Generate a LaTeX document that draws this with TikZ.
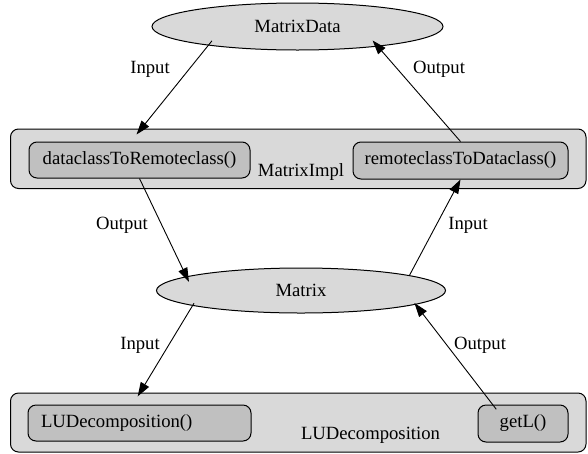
\documentclass[tikz,border=0pt]{standalone}
\usepackage{fontspec}
\setmainfont{Liberation Serif}
\usetikzlibrary{shapes.geometric,arrows.meta,positioning}

\definecolor{nodegray}{RGB}{217,217,217}
\definecolor{boxgray}{RGB}{192,192,192}

\tikzset{
  lbl/.style={font=\fontsize{18.67pt}{22pt}\selectfont, inner sep=0pt},
  dataset/.style={lbl, ellipse, draw, line width=1pt, fill=nodegray},
  cluster/.style={rectangle, draw, line width=1pt, rounded corners=8pt, fill=nodegray, inner sep=0pt},
  method/.style={lbl, rectangle, draw, line width=1pt, rounded corners=8pt, fill=boxgray},
  flow/.style={line width=0.9pt, -{Triangle[length=14pt,width=9.5pt]}},
}

\begin{document}
\begin{tikzpicture}[x=1pt,y=-1pt]
  \useasboundingbox (0,0) rectangle (588,453);
  % the two class clusters
  \node[cluster, minimum width=575.5pt, minimum height=59.5pt] (implbox) at (298.25,158.75) {};
  \node[cluster, minimum width=575.5pt, minimum height=59pt] (ludbox) at (298.25,422.5) {};
  \node[lbl] (implname) at (301,172) {MatrixImpl};
  \node[lbl] (ludname) at (370.5,435) {LUDecomposition};
  % methods
  \node[method, minimum width=221pt, minimum height=36pt] (dtr) at (139.5,160) {dataclassToRemoteclass()};
  \node[method, minimum width=215pt, minimum height=37pt] (rtd) at (460.5,160.5) {remoteclassToDataclass()};
  \node[method, minimum height=36pt, text width=197pt, inner xsep=13pt, align=left] (lud) at (139.5,423) {LUDecomposition()};
  \node[method, minimum width=90pt, minimum height=37pt] (getl) at (523,423.5) {getL()};
  % data
  \node[dataset, minimum width=291pt, minimum height=47pt] (mdata) at (297.5,26.5) {MatrixData};
  \node[dataset, minimum width=289pt, minimum height=45pt] (matrix) at (301,290.5) {Matrix};
  % connectors
  \draw[flow, shorten <=-6pt, shorten >=9pt] (mdata.192) -- (dtr.115);
  \draw[flow, shorten >=-8pt] (rtd.north) -- (mdata.346);
  \draw[flow, shorten >=-6pt] (dtr.south) -- (matrix.173);
  \draw[flow] (matrix.8) -- (rtd.south);
  \draw[flow, shorten <=-3pt, shorten >=9.5pt] (matrix.188.5) -- (lud.110);
  \draw[flow, shorten <=-6pt, shorten >=-2pt] (getl.148) -- (matrix.353);
  % connector labels
  \node[lbl] (in1) at (150,69) {Input};
  \node[lbl] (out1) at (439,69) {Output};
  \node[lbl] (out2) at (122,225) {Output};
  \node[lbl] (in2) at (468,225) {Input};
  \node[lbl] (in3) at (140,345) {Input};
  \node[lbl] (out3) at (480,345) {Output};
\end{tikzpicture}
\end{document}
